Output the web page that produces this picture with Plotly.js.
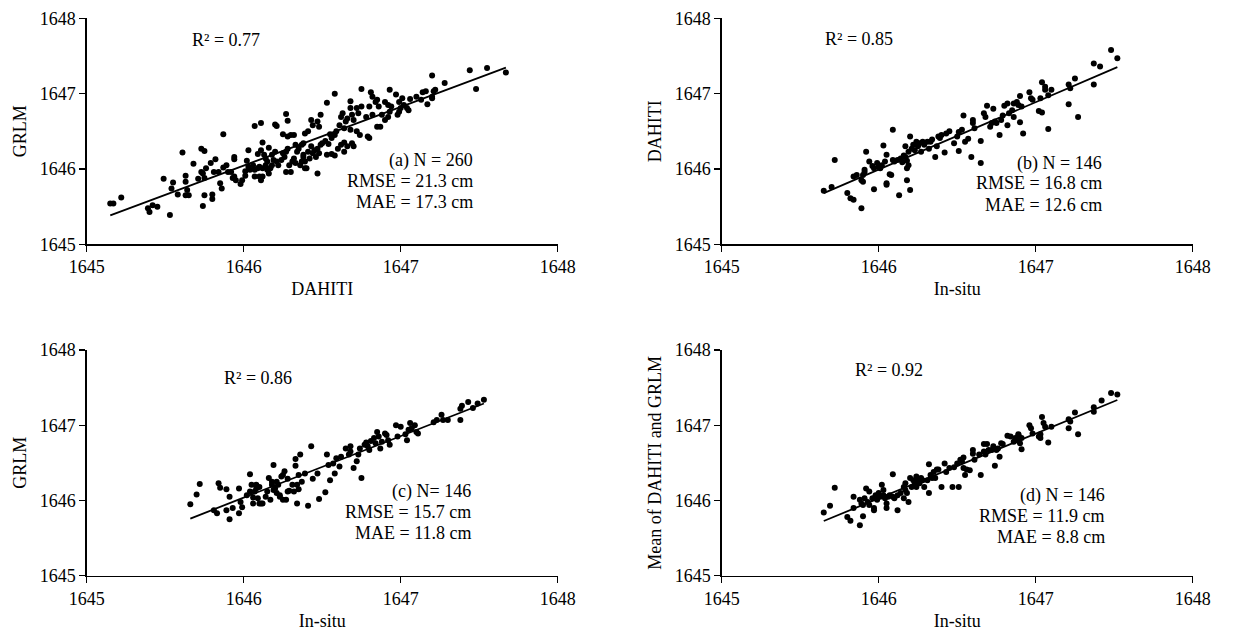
<!DOCTYPE html>
<html>
<head>
<meta charset="utf-8">
<script src="https://cdn.plot.ly/plotly-3.0.1.min.js"></script>
<style>html,body{margin:0;padding:0;background:#fff;}#chart{width:1236px;height:633px;}</style>
</head>
<body>
<div id="chart"></div>
<script>
// ---- data ----
const panelA = [[1645.15,1645.54],[1645.17,1645.54],[1645.22,1645.62],[1645.39,1645.48],[1645.40,1645.43],[1645.42,1645.52],[1645.45,1645.50],[1645.53,1645.39],[1645.49,1645.87],[1645.55,1645.82],[1645.54,1645.74],[1645.58,1645.66],[1645.63,1645.65],[1645.65,1645.65],[1645.64,1645.72],[1645.61,1646.22],[1645.63,1645.91],[1645.63,1645.83],[1645.68,1646.07],[1645.71,1645.87],[1645.73,1646.27],[1645.75,1646.24],[1645.73,1645.96],[1645.74,1645.94],[1645.76,1646.01],[1645.75,1645.88],[1645.75,1645.65],[1645.74,1645.51],[1645.80,1645.66],[1645.80,1645.60],[1645.79,1646.08],[1645.82,1646.13],[1645.81,1645.96],[1645.84,1645.96],[1645.85,1645.81],[1645.86,1645.74],[1645.87,1646.46],[1645.87,1646.02],[1645.89,1646.05],[1645.90,1645.96],[1645.92,1645.96],[1645.94,1645.90],[1645.94,1646.13],[1645.94,1646.16],[1645.93,1645.88],[1645.95,1645.85],[1645.98,1645.80],[1645.99,1645.85],[1646.01,1645.97],[1646.01,1645.91],[1646.02,1646.11],[1646.03,1646.25],[1646.03,1646.03],[1646.04,1645.99],[1646.06,1646.05],[1646.07,1645.99],[1646.07,1646.57],[1646.11,1646.61],[1646.09,1646.20],[1646.11,1646.25],[1646.12,1646.35],[1646.07,1645.90],[1646.10,1645.90],[1646.11,1645.85],[1646.12,1645.90],[1646.09,1646.01],[1646.10,1646.03],[1646.12,1646.01],[1646.13,1646.19],[1646.14,1646.14],[1646.15,1646.10],[1646.16,1646.28],[1646.14,1646.05],[1646.15,1645.99],[1646.16,1645.94],[1646.17,1646.01],[1646.18,1646.05],[1646.18,1646.19],[1646.19,1646.12],[1646.20,1646.23],[1646.20,1646.59],[1646.21,1646.57],[1646.21,1646.10],[1646.22,1646.05],[1646.24,1646.12],[1646.25,1646.46],[1646.25,1646.21],[1646.26,1646.16],[1646.27,1646.23],[1646.28,1646.27],[1646.27,1646.73],[1646.28,1646.64],[1646.28,1646.43],[1646.30,1646.45],[1646.32,1646.45],[1646.27,1645.96],[1646.30,1645.96],[1646.29,1646.05],[1646.31,1646.10],[1646.32,1646.14],[1646.33,1646.08],[1646.33,1646.32],[1646.34,1646.23],[1646.35,1646.27],[1646.36,1646.05],[1646.37,1646.10],[1646.38,1646.16],[1646.39,1646.47],[1646.39,1646.01],
[1646.37,1646.32],[1646.38,1646.19],[1646.39,1646.10],[1646.41,1646.23],[1646.42,1646.14],[1646.43,1646.30],[1646.44,1646.21],[1646.40,1646.01],[1646.45,1646.25],[1646.46,1646.16],[1646.47,1646.27],[1646.48,1646.21],[1646.49,1646.32],[1646.38,1646.34],[1646.47,1645.94],[1646.41,1646.50],[1646.43,1646.65],[1646.44,1646.58],[1646.47,1646.63],[1646.48,1646.56],[1646.49,1646.72],[1646.53,1646.88],[1646.58,1647.00],[1646.50,1646.34],[1646.52,1646.37],[1646.54,1646.33],[1646.56,1646.41],[1646.58,1646.45],[1646.55,1646.46],[1646.59,1646.50],[1646.53,1646.19],[1646.56,1646.20],[1646.58,1646.18],[1646.60,1646.27],[1646.62,1646.32],[1646.64,1646.35],[1646.64,1646.23],[1646.66,1646.30],[1646.69,1646.34],[1646.70,1646.30],[1646.61,1646.58],[1646.63,1646.74],[1646.62,1646.69],[1646.64,1646.54],[1646.65,1646.63],[1646.66,1646.67],[1646.68,1646.90],[1646.68,1646.81],[1646.69,1646.72],[1646.70,1646.65],[1646.72,1646.81],[1646.73,1646.74],[1646.75,1646.83],[1646.75,1647.06],[1646.68,1646.52],[1646.72,1646.50],[1646.74,1646.45],[1646.79,1646.43],[1646.80,1646.41],[1646.78,1646.69],[1646.80,1646.83],[1646.81,1647.02],[1646.82,1646.96],[1646.84,1646.89],[1646.85,1646.92],[1646.86,1646.83],[1646.85,1646.56],[1646.87,1646.56],[1646.82,1646.72],[1646.88,1646.72],[1646.90,1646.89],[1646.92,1646.85],[1646.93,1647.05],[1646.94,1646.83],[1646.90,1646.65],[1646.92,1646.69],[1646.93,1646.76],[1646.97,1646.99],[1646.99,1646.89],[1647.00,1646.81],[1646.99,1646.76],[1646.98,1646.72],[1647.01,1646.94],[1647.02,1646.85],[1647.04,1646.81],[1647.05,1646.78],[1647.06,1646.93],[1647.10,1646.96],[1647.13,1646.92],[1647.14,1647.02],[1647.16,1647.03],[1647.17,1646.86],[1647.20,1647.24],[1647.21,1647.03],[1647.22,1647.05],[1647.20,1646.94],[1647.20,1646.96],[1647.28,1647.14],[1647.44,1647.31],[1647.48,1647.06],[1647.55,1647.34],[1647.67,1647.28]];

const panelB = [[1645.65,1645.71],[1645.70,1645.76],[1645.72,1646.12],[1645.80,1645.68],[1645.82,1645.61],[1645.84,1645.59],[1645.89,1645.48],[1645.84,1645.90],[1645.86,1645.92],[1645.89,1645.85],[1645.90,1645.83],[1645.90,1645.92],[1645.91,1645.99],[1645.92,1646.23],[1645.91,1645.96],[1645.94,1646.10],[1645.96,1646.04],[1645.97,1646.01],[1645.97,1645.73],[1645.99,1646.08],[1646.00,1646.03],[1646.01,1646.01],[1646.02,1646.05],[1646.03,1646.31],[1646.04,1646.10],[1646.05,1645.81],[1646.05,1645.79],[1646.05,1646.19],[1646.07,1645.93],[1646.08,1645.92],[1646.09,1646.52],[1646.09,1646.12],[1646.10,1646.10],[1646.12,1646.12],[1646.13,1645.65],[1646.14,1646.14],[1646.15,1646.09],[1646.16,1646.18],[1646.17,1646.16],[1646.18,1646.11],[1646.18,1645.85],[1646.18,1646.01],[1646.19,1646.05],[1646.17,1646.30],[1646.20,1646.43],[1646.20,1645.72],[1646.19,1646.23],[1646.21,1646.27],[1646.22,1646.32],[1646.23,1646.25],[1646.24,1646.36],[1646.25,1646.30],[1646.26,1646.34],[1646.27,1646.23],[1646.28,1646.36],[1646.29,1646.32],[1646.31,1646.36],[1646.32,1646.27],[1646.33,1646.36],[1646.34,1646.39],[1646.36,1646.16],[1646.37,1646.30],[1646.38,1646.43],[1646.39,1646.41],[1646.40,1646.45],[1646.42,1646.22],[1646.43,1646.47],[1646.45,1646.50],[1646.48,1646.34],[1646.50,1646.43],[1646.51,1646.49],[1646.51,1646.24],[1646.53,1646.52],[1646.54,1646.71],[1646.55,1646.36],[1646.57,1646.40],[1646.59,1646.16],[1646.60,1646.65],[1646.60,1646.61],[1646.61,1646.54],[1646.65,1646.37],[1646.65,1646.08],[1646.67,1646.74],[1646.68,1646.69],[1646.69,1646.84],[1646.71,1646.56],[1646.73,1646.80],[1646.72,1646.61],[1646.74,1646.63],[1646.75,1646.61],[1646.77,1646.45],[1646.78,1646.65],[1646.79,1646.71],[1646.80,1646.84],[1646.82,1646.87],[1646.83,1646.74],
[1646.82,1646.58],[1646.85,1646.78],[1646.86,1646.69],[1646.86,1646.87],[1646.88,1646.89],[1646.89,1646.85],[1646.90,1646.97],[1646.90,1646.62],[1646.92,1646.47],[1646.91,1646.83],[1646.96,1647.02],[1646.97,1646.94],[1646.98,1646.92],[1647.02,1646.77],[1647.03,1646.94],[1647.04,1646.75],[1647.04,1647.15],[1647.06,1647.09],[1647.06,1647.05],[1647.08,1646.98],[1647.08,1646.53],[1647.10,1647.05],[1647.21,1647.12],[1647.21,1646.86],[1647.22,1647.07],[1647.25,1647.20],[1647.27,1646.69],[1647.37,1647.40],[1647.37,1647.12],[1647.41,1647.36],[1647.48,1647.58],[1647.52,1647.47]];

const panelC = [[1645.66,1645.95],[1645.70,1646.08],[1645.72,1646.22],[1645.81,1645.87],[1645.83,1645.83],[1645.84,1646.23],[1645.85,1646.17],[1645.89,1646.15],[1645.91,1646.05],[1645.91,1645.75],[1645.89,1645.87],[1645.93,1645.90],[1645.97,1645.83],[1645.98,1645.98],[1645.97,1646.16],[1645.99,1645.91],[1646.02,1646.07],[1646.04,1646.35],[1646.04,1646.12],[1646.05,1646.21],[1646.06,1646.04],[1646.06,1645.96],[1646.07,1646.12],[1646.08,1646.16],[1646.08,1646.21],[1646.09,1646.03],[1646.10,1646.18],[1646.10,1645.96],[1646.11,1645.96],[1646.12,1645.96],[1646.14,1646.05],[1646.15,1646.12],[1646.16,1646.30],[1646.17,1646.01],[1646.18,1646.25],[1646.18,1646.21],[1646.19,1646.47],[1646.19,1646.14],[1646.20,1646.16],[1646.21,1646.25],[1646.21,1646.10],[1646.22,1646.21],[1646.23,1646.07],[1646.23,1646.05],[1646.24,1646.32],[1646.25,1646.34],[1646.26,1646.39],[1646.25,1646.01],[1646.27,1646.01],[1646.28,1646.29],[1646.28,1646.12],[1646.29,1646.13],[1646.31,1646.21],[1646.32,1646.12],[1646.33,1646.55],[1646.33,1646.46],[1646.34,1646.21],[1646.34,1645.96],[1646.35,1646.34],[1646.35,1646.15],[1646.36,1646.61],[1646.37,1646.25],[1646.39,1646.36],[1646.41,1645.93],[1646.43,1646.72],[1646.44,1646.29],[1646.47,1646.36],[1646.48,1646.02],[1646.52,1646.11],[1646.53,1646.61],[1646.54,1646.47],[1646.55,1646.27],[1646.57,1646.49],[1646.58,1646.36],[1646.59,1646.56],[1646.61,1646.45],
[1646.62,1646.58],[1646.65,1646.69],[1646.67,1646.61],[1646.68,1646.72],[1646.68,1646.65],[1646.70,1646.43],[1646.72,1646.52],[1646.73,1646.61],[1646.75,1646.30],[1646.74,1646.69],[1646.77,1646.74],[1646.78,1646.77],[1646.79,1646.72],[1646.80,1646.67],[1646.81,1646.79],[1646.83,1646.83],[1646.84,1646.76],[1646.85,1646.91],[1646.86,1646.85],[1646.87,1646.69],[1646.88,1646.78],[1646.90,1646.89],[1646.91,1646.87],[1646.92,1646.80],[1646.93,1646.74],[1646.97,1647.00],[1646.98,1646.85],[1647.00,1646.98],[1647.03,1646.88],[1647.04,1646.80],[1647.05,1646.94],[1647.06,1647.03],[1647.07,1646.96],[1647.09,1647.00],[1647.10,1646.91],[1647.11,1646.89],[1647.21,1647.04],[1647.23,1647.07],[1647.26,1647.14],[1647.27,1647.07],[1647.30,1647.07],[1647.38,1647.22],[1647.38,1647.07],[1647.39,1647.26],[1647.43,1647.31],[1647.46,1647.23],[1647.49,1647.29],[1647.53,1647.34]];

const panelD = [[1645.65,1645.84],[1645.69,1645.93],[1645.72,1646.17],[1645.80,1645.78],[1645.82,1645.73],[1645.84,1646.05],[1645.84,1645.90],[1645.88,1645.67],[1645.88,1646.01],[1645.89,1645.96],[1645.90,1645.79],[1645.90,1645.94],[1645.91,1646.03],[1645.92,1646.16],[1645.93,1645.98],[1645.94,1646.12],[1645.94,1645.94],[1645.96,1646.03],[1645.97,1645.90],[1645.97,1645.87],[1645.98,1646.07],[1645.99,1646.01],[1646.00,1646.10],[1646.01,1646.05],[1646.02,1646.21],[1646.03,1646.14],[1646.03,1646.07],[1646.04,1646.03],[1646.05,1645.90],[1646.05,1645.96],[1646.06,1646.05],[1646.07,1646.07],[1646.09,1646.35],[1646.09,1646.05],[1646.10,1646.03],[1646.12,1645.87],[1646.12,1646.07],[1646.14,1646.10],[1646.16,1646.18],[1646.16,1646.03],[1646.17,1646.14],[1646.17,1646.23],[1646.18,1646.10],[1646.19,1645.98],[1646.20,1646.30],[1646.21,1646.18],[1646.22,1646.27],[1646.23,1646.23],[1646.24,1646.32],[1646.24,1646.18],[1646.25,1646.27],[1646.26,1646.23],[1646.27,1646.30],[1646.28,1646.27],[1646.29,1646.18],[1646.31,1646.27],[1646.32,1646.48],[1646.32,1646.10],[1646.33,1646.34],[1646.34,1646.30],[1646.35,1646.38],[1646.36,1646.30],[1646.37,1646.41],[1646.38,1646.41],[1646.40,1646.18],[1646.42,1646.49],[1646.43,1646.38],[1646.45,1646.43],[1646.47,1646.18],[1646.48,1646.44],[1646.50,1646.49],[1646.51,1646.18],[1646.52,1646.54],[1646.53,1646.52],[1646.54,1646.57],[1646.54,1646.43],[1646.55,1646.34],[1646.56,1646.41],[1646.58,1646.40],[1646.60,1646.67],[1646.60,1646.62],[1646.61,1646.54],[1646.64,1646.61],[1646.65,1646.34],[1646.67,1646.65],[1646.67,1646.75],[1646.69,1646.75],[1646.68,1646.61],[1646.70,1646.67],[1646.72,1646.67],[1646.73,1646.72],[1646.74,1646.46],[1646.75,1646.67],[1646.76,1646.69],[1646.77,1646.58],[1646.78,1646.76],[1646.79,1646.75],[1646.82,1646.86],
[1646.84,1646.85],[1646.86,1646.78],[1646.87,1646.83],[1646.88,1646.80],[1646.89,1646.87],[1646.89,1646.88],[1646.90,1646.76],[1646.91,1646.83],[1646.91,1646.68],[1646.96,1647.00],[1646.97,1646.96],[1646.98,1646.89],[1647.02,1646.85],[1647.03,1646.83],[1647.03,1646.88],[1647.04,1647.11],[1647.05,1647.03],[1647.06,1646.98],[1647.08,1646.77],[1647.10,1646.98],[1647.21,1647.08],[1647.21,1646.96],[1647.22,1647.05],[1647.25,1647.17],[1647.27,1646.88],[1647.37,1647.24],[1647.37,1647.18],[1647.42,1647.33],[1647.48,1647.43],[1647.52,1647.41]];

const xTitles = ['DAHITI', 'In-situ', 'In-situ', 'In-situ'];
const yTitles = ['GRLM', 'DAHITI', 'GRLM', 'Mean of DAHITI and GRLM'];
const r2Labels = ['R² = 0.77', 'R² = 0.85', 'R² = 0.86', 'R² = 0.92'];
const statLabels = [
  ['(a) N = 260', 'RMSE = 21.3 cm', 'MAE = 17.3 cm'],
  ['(b) N = 146', 'RMSE = 16.8 cm', 'MAE = 12.6 cm'],
  ['(c) N= 146', 'RMSE = 15.7 cm', 'MAE = 11.8 cm'],
  ['(d) N = 146', 'RMSE = 11.9 cm', 'MAE = 8.8 cm']
];
const tickValues = [1645, 1646, 1647, 1648];
const axisRange = [1645, 1648];

// ---- layout helpers ----
const W = 1236, H = 633;
const FONT = 'Liberation Serif, "Times New Roman", serif';
const panels = [panelA, panelB, panelC, panelD];
// pixel geometry of each panel: [x of left axis, y of top, y of bottom]
const geom = [
  {l: 86.7, t: 18.3, b: 244.3},
  {l: 721.7, t: 18.3, b: 244.3},
  {l: 86.7, t: 350, b: 575.7},
  {l: 721.7, t: 350, b: 575.7}
];
const plotW = 471;
const r2Pos = [[190, 40], [823, 39], [222, 378], [853, 370]];
const statPos = [
  [475, [160.5, 181, 201.7]],
  [1104, [163.3, 183.3, 205]],
  [473.3, [491.7, 511.7, 533.3]],
  [1106.7, [495, 516, 536.7]]
];

function fit(pts) {
  const n = pts.length;
  let sx = 0, sy = 0, sxx = 0, sxy = 0;
  pts.forEach(p => { sx += p[0]; sy += p[1]; });
  const mx = sx / n, my = sy / n;
  pts.forEach(p => { sxx += (p[0]-mx)*(p[0]-mx); sxy += (p[0]-mx)*(p[1]-my); });
  const b = sxy / sxx, a = my - b * mx;
  const xs = pts.map(p => p[0]);
  const x0 = Math.min(...xs), x1 = Math.max(...xs);
  return {x: [x0, x1], y: [a + b*x0, a + b*x1]};
}

const traces = [];
const layout = {
  width: W, height: H,
  margin: {l: 0, r: 0, t: 0, b: 0},
  paper_bgcolor: '#fff', plot_bgcolor: 'rgba(0,0,0,0)',
  showlegend: false,
  font: {family: FONT, size: 18, color: '#000'},
  annotations: []
};

panels.forEach((pts, i) => {
  const k = i === 0 ? '' : String(i + 1);
  const xa = 'x' + k, ya = 'y' + k;
  traces.push({
    type: 'scatter', mode: 'markers', xaxis: xa, yaxis: ya,
    x: pts.map(p => p[0]), y: pts.map(p => p[1]),
    marker: {color: '#000', size: 6}, hoverinfo: 'skip'
  });
  const f = fit(pts);
  traces.push({
    type: 'scatter', mode: 'lines', xaxis: xa, yaxis: ya,
    x: f.x, y: f.y, line: {color: '#000', width: 1.8}, hoverinfo: 'skip'
  });
  const g = geom[i];
  const axCommon = {
    range: axisRange, tickvals: tickValues, ticktext: tickValues.map(String),
    showline: true, linecolor: '#000', linewidth: 1.3,
    ticks: 'outside', ticklen: 6, tickwidth: 1.3, tickcolor: '#000',
    showgrid: false, zeroline: false, automargin: false,
    tickfont: {family: FONT, size: 18, color: '#000'}
  };
  layout['xaxis' + k] = Object.assign({}, axCommon, {
    domain: [g.l / W, (g.l + plotW) / W], anchor: ya,
    title: {text: xTitles[i], font: {family: FONT, size: 18, color: '#000'}, standoff: 6}
  });
  layout['yaxis' + k] = Object.assign({}, axCommon, {
    domain: [1 - g.b / H, 1 - g.t / H], anchor: xa,
    title: {text: yTitles[i], font: {family: FONT, size: 18, color: '#000'}, standoff: 8}
  });
  layout.annotations.push({
    xref: 'paper', yref: 'paper', x: r2Pos[i][0] / W, y: 1 - r2Pos[i][1] / H,
    xanchor: 'left', yanchor: 'middle', showarrow: false, text: r2Labels[i],
    font: {family: FONT, size: 18, color: '#000'}
  });
  statLabels[i].forEach((t, j) => {
    layout.annotations.push({
      xref: 'paper', yref: 'paper', x: statPos[i][0] / W, y: 1 - statPos[i][1][j] / H,
      xanchor: 'right', yanchor: 'middle', showarrow: false, text: t,
      font: {family: FONT, size: 18, color: '#000'}
    });
  });
});

Plotly.newPlot('chart', traces, layout, {displayModeBar: false, staticPlot: true});
</script>
</body>
</html>
